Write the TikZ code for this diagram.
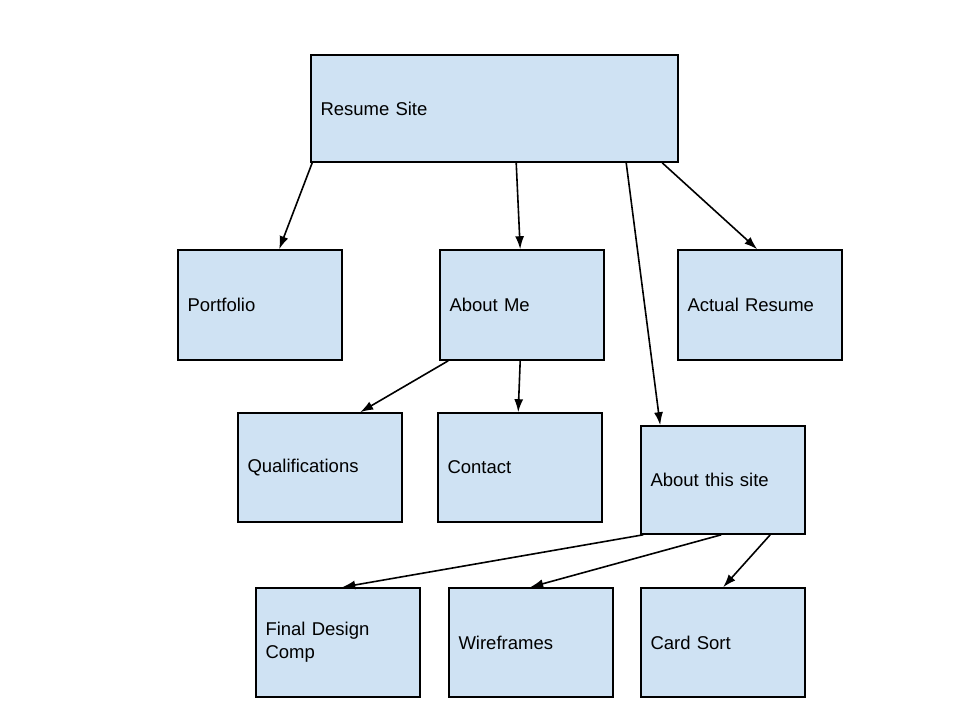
\documentclass[tikz,border=0pt]{standalone}
\usepackage{fontspec}
\setmainfont{Liberation Sans}
\usetikzlibrary{arrows.meta}
\definecolor{boxblue}{HTML}{CFE2F3}
\tikzset{box/.style={draw,fill=boxblue,line width=1.6pt,inner xsep=9.5pt,align=left,
    font=\fontsize{18.5}{23}\selectfont,minimum height=110pt,minimum width=164pt,text width=145pt}}

\begin{document}
\begin{tikzpicture}[x=1pt, y=-1pt, line width=1.6pt, >={Latex[length=13pt,width=9pt]}]
    \useasboundingbox (0,0) rectangle (960,720);

    \node [box, minimum width=367pt, minimum height=107pt, text width=348pt] (rs) at (494.5, 108.5) {Resume Site};

    \node [box] (pf) at (260, 305) {Portfolio};
    \node [box] (am) at (522, 305) {About Me};
    \node [box] (ar) at (760, 305) {Actual Resume};

    \node [box, minimum height=109pt] (qu) at (320, 467.5) {Qualifications};
    \node [box, minimum height=109pt] (co) at (520, 467.5) {Contact};
    \node [box, minimum height=108pt] (as) at (723, 480) {About this site};

    \node [box, minimum height=109pt] (fd) at (338, 642.5) {Final Design\\Comp};
    \node [box, minimum height=109pt] (wf) at (531, 642.5) {Wireframes};
    \node [box, minimum height=109pt] (cs) at (723, 642.5) {Card Sort};

    \draw [->] ([xshift=2pt]rs.south west) to ([xshift=102pt]pf.north west);
    \draw [->] ([xshift=206pt]rs.south west) to ([xshift=81pt]am.north west);
    \draw [->] ([xshift=316pt]rs.south west) to ([xshift=20pt]as.north west);
    \draw [->] ([xshift=352pt]rs.south west) to ([xshift=80pt]ar.north west);

    \draw [->] ([xshift=9pt]am.south west) to ([xshift=123pt]qu.north west);
    \draw [->] ([xshift=81pt]am.south west) to ([xshift=81pt]co.north west);

    \draw [->] ([xshift=3pt]as.south west) to ([xshift=87pt]fd.north west);
    \draw [->] ([xshift=81pt]as.south west) to ([xshift=82pt]wf.north west);
    \draw [->] ([xshift=130pt]as.south west) to ([xshift=83pt]cs.north west);

\end{tikzpicture}
\end{document}
